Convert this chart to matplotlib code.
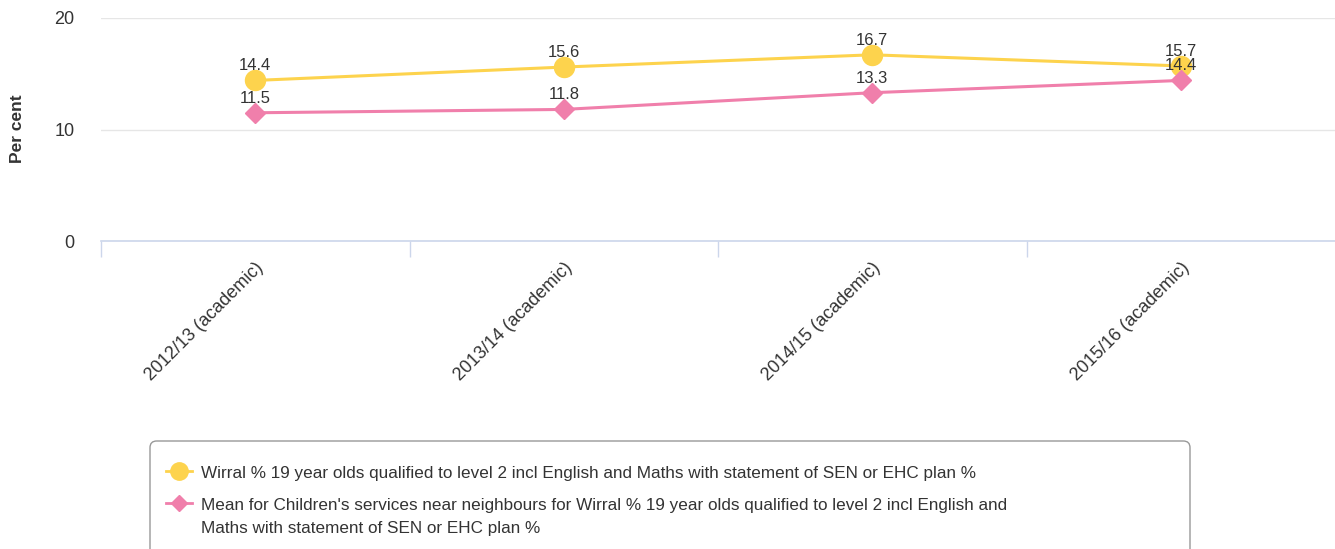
import matplotlib
matplotlib.use("Agg")
from matplotlib import pyplot as plt
from matplotlib.lines import Line2D
from matplotlib.patches import FancyBboxPatch

plt.rcParams['font.family'] = ['Liberation Sans', 'DejaVu Sans']

categories = ['2012/13 (academic)', '2013/14 (academic)', '2014/15 (academic)', '2015/16 (academic)']
wirral = [14.4, 15.6, 16.7, 15.7]
neighbours = [11.5, 11.8, 13.3, 14.4]
y_ticks = [0, 10, 20]

WIRRAL_LABEL = ['Wirral % 19 year olds qualified to level 2 incl English and Maths with statement of SEN or EHC plan %']
NEIGHBOUR_LABEL = ["Mean for Children's services near neighbours for Wirral % 19 year olds qualified to level 2 incl English and",
                   "Maths with statement of SEN or EHC plan %"]

YELLOW = '#fdd34d'
PINK = '#f07fab'
TEXT = '#333333'

W, H = 1335, 549
fig = plt.figure(figsize=(W / 100, H / 100), dpi=100)
ax = fig.add_axes([101 / W, 1 - 241 / H, 1 - 101 / W, (241 - 18) / H])

x = list(range(len(categories)))
ax.plot(x, wirral, color=YELLOW, lw=2.2, marker='o', ms=14.4, mec=YELLOW, zorder=3)
ax.plot(x, neighbours, color=PINK, lw=2.2, marker='D', ms=10, mec=PINK, zorder=3)

for series in (wirral, neighbours):
    for xi, v in zip(x, series):
        ax.annotate(f'{v}', (xi, v), xytext=(0, 5), textcoords='offset points',
                    ha='center', va='bottom', fontsize=12, color=TEXT, zorder=4)

ax.set_xlim(-0.5, len(categories) - 0.5)
ax.set_ylim(0, 20)
ax.set_yticks(y_ticks)
ax.tick_params(axis='y', length=0, pad=19, labelsize=13, labelcolor=TEXT)
ax.yaxis.grid(True, color='#e6e6e6', lw=1)
ax.set_axisbelow(True)

# category ticks sit on the boundaries, labels sit under each category
ax.set_xticks([i - 0.5 for i in range(len(categories))])
ax.set_xticklabels([])
ax.tick_params(axis='x', length=11.5, width=1, color='#ccd6eb', direction='out')
ax.set_xticks(x, minor=True)
ax.set_xticklabels(categories, minor=True, rotation=45, ha='right', va='top',
                   rotation_mode='anchor', fontsize=13, color=TEXT)
ax.tick_params(axis='x', which='minor', length=0, pad=13)

for side in ['top', 'right', 'left']:
    ax.spines[side].set_visible(False)
ax.spines['bottom'].set_color('#ccd6eb')
ax.spines['bottom'].set_linewidth(1.2)

fig.text(17 / W, 1 - 129 / H, 'Per cent', rotation=90, ha='center', va='center',
         fontsize=12.5, fontweight='bold', color=TEXT)

# legend box, laid out in pixels (it runs off the bottom edge)
def fx(px):
    return px / W

def fy(py):
    return 1 - py / H

box = FancyBboxPatch((fx(150), fy(570)), fx(1190) - fx(150), fy(441) - fy(570),
                     boxstyle='round,pad=0,rounding_size=0.005', transform=fig.transFigure,
                     fc='white', ec='#999999', lw=1, mutation_aspect=W / H)
fig.add_artist(box)

entries = [
    (YELLOW, 'o', 12.5, WIRRAL_LABEL, 478),
    (PINK, 'D', 8, NEIGHBOUR_LABEL, 510),
]
for color, marker, ms, lines, baseline in entries:
    cy = baseline - 7
    fig.add_artist(Line2D([fx(166), fx(192)], [fy(cy), fy(cy)], transform=fig.transFigure,
                          color=color, lw=2))
    fig.add_artist(Line2D([fx(179)], [fy(cy)], transform=fig.transFigure, marker=marker,
                          ms=ms, color=color, mec=color, lw=0))
    for k, line in enumerate(lines):
        fig.text(fx(201), fy(baseline + 23 * k), line, ha='left', va='baseline',
                 fontsize=12.3, color=TEXT)

fig.savefig('out.png', dpi=100)
